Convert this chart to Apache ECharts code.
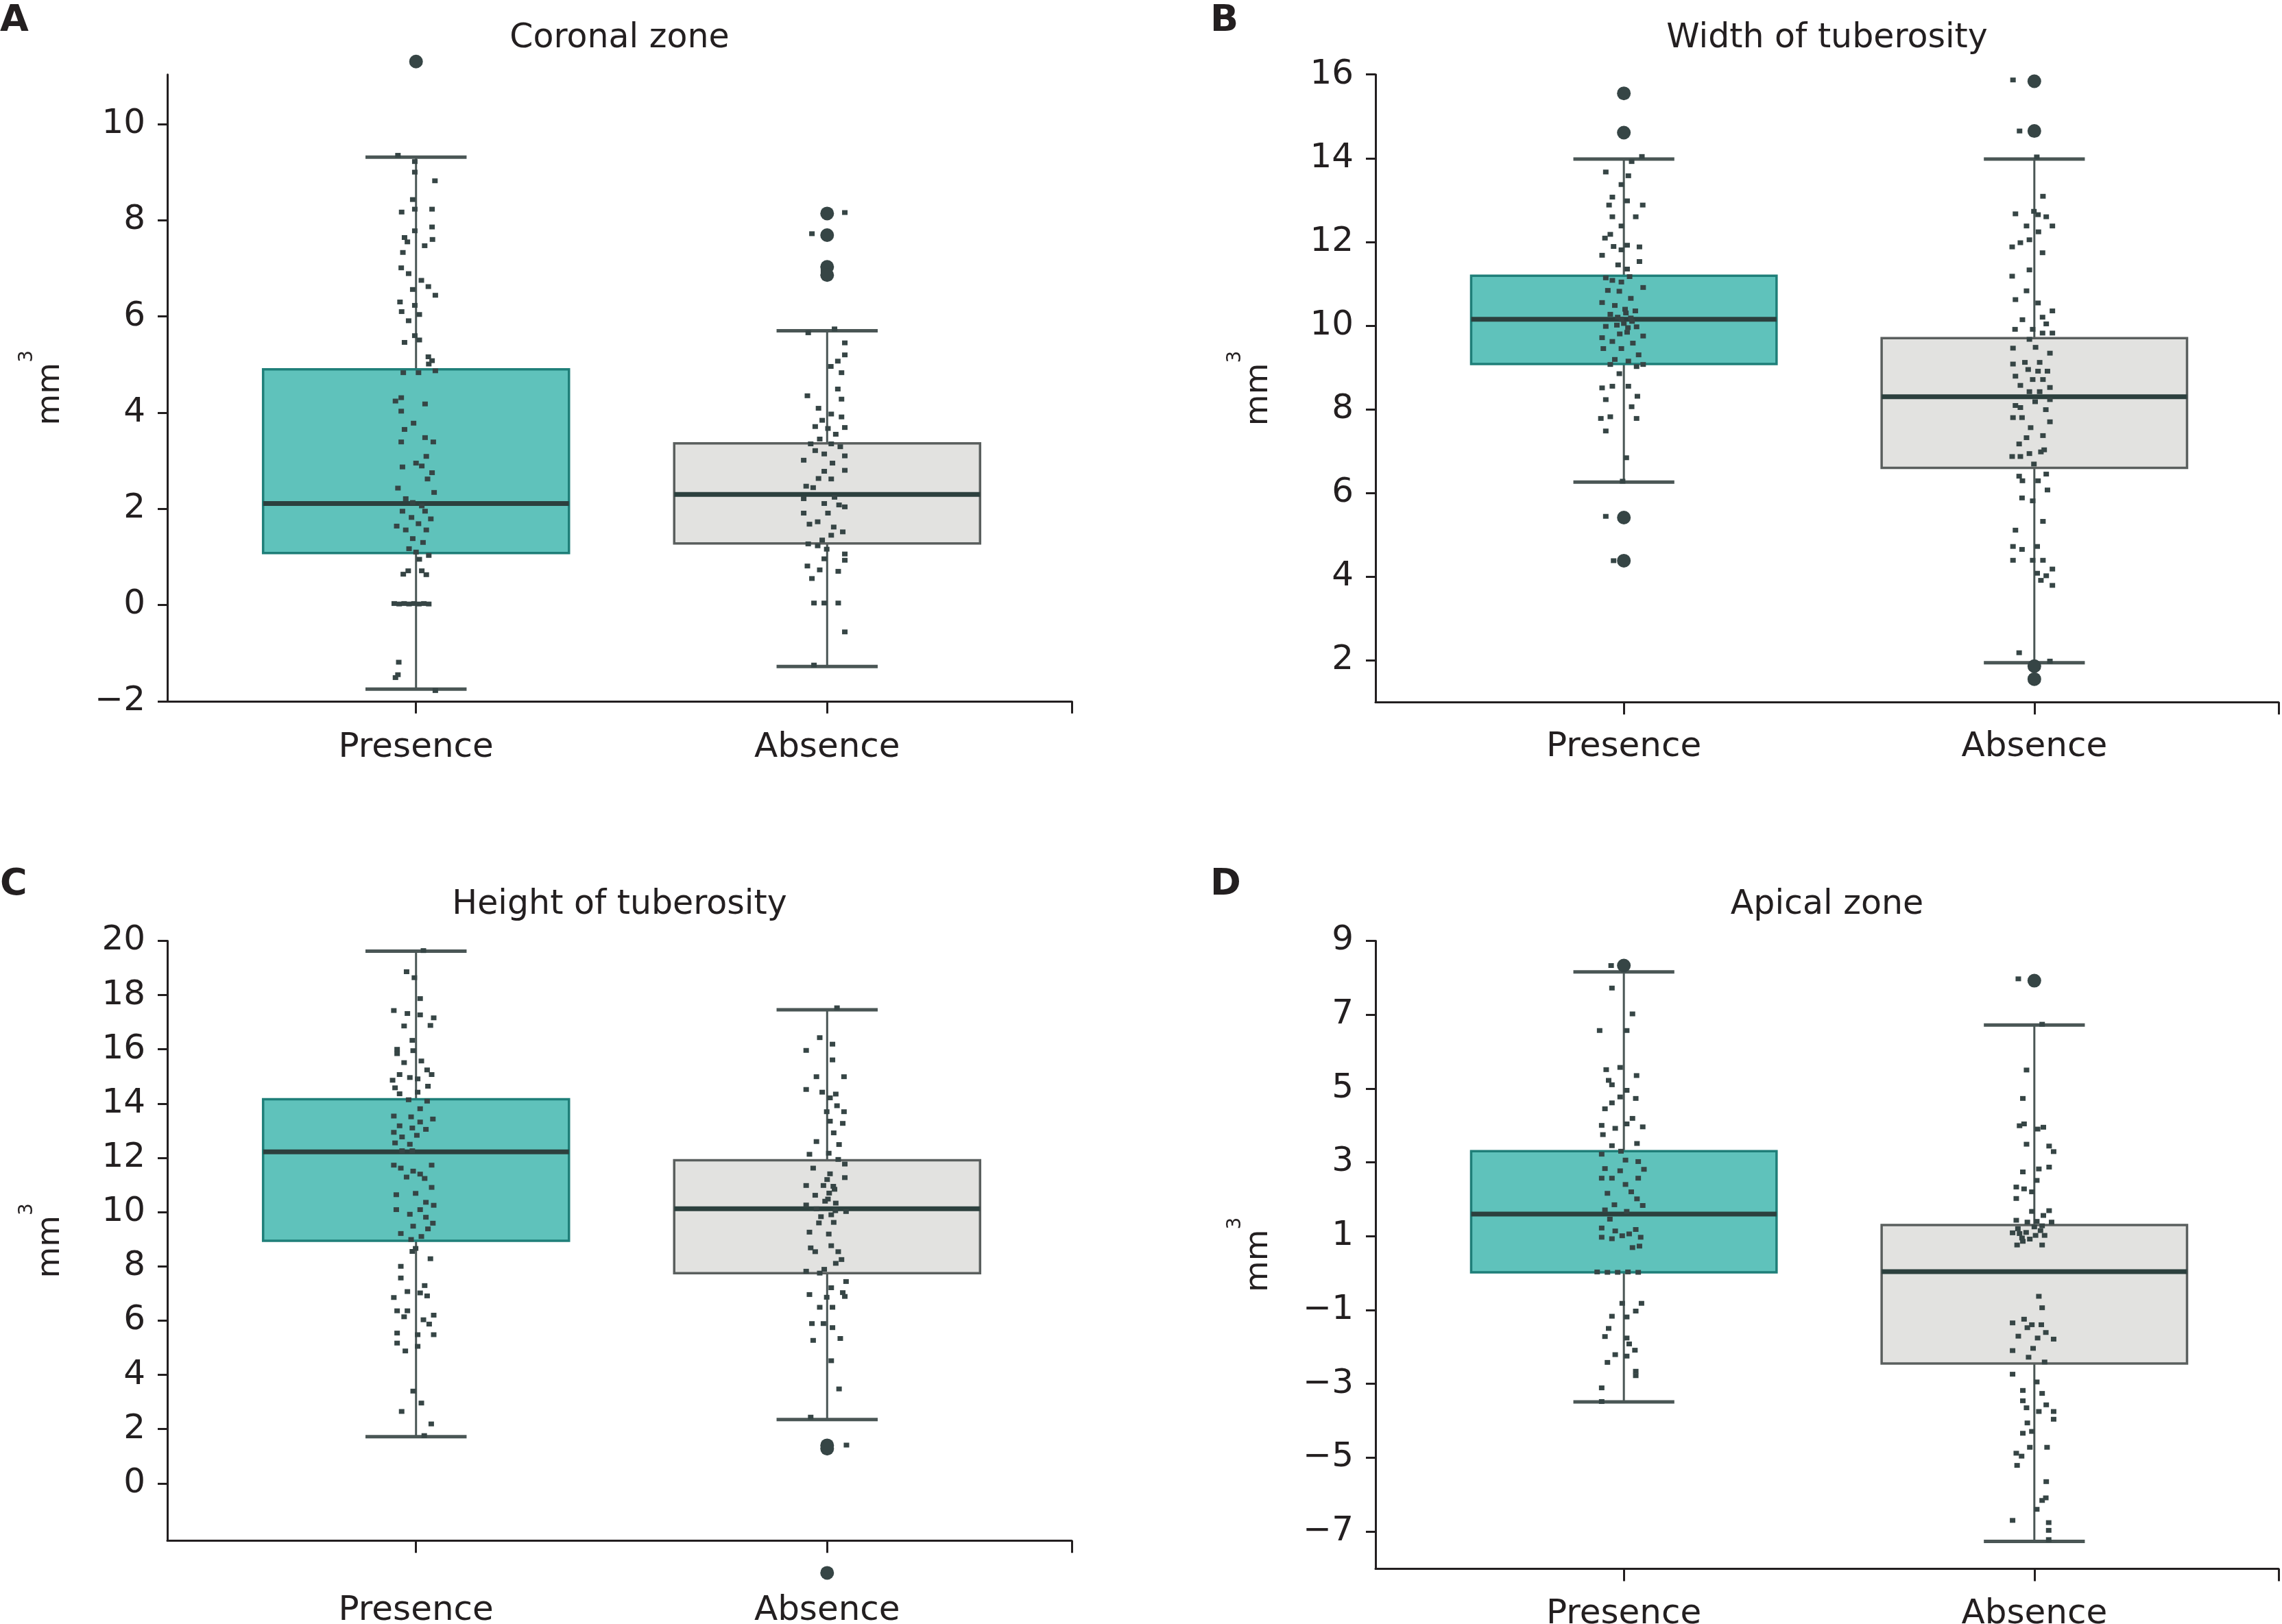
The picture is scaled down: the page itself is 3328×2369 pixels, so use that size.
<!DOCTYPE html>
<html>
<head>
<meta charset="utf-8">
<script src="https://cdn.jsdelivr.net/npm/echarts@6/dist/echarts.min.js"></script>
<style>
html,body{margin:0;padding:0;background:#ffffff;}
#chart{width:3328px;height:2369px;}
</style>
</head>
<body>
<div id="chart"></div>
<script>
// ---------------- DATA ----------------
const categories = ['Presence', 'Absence'];
const panelTitles = ['Coronal zone', 'Width of tuberosity', 'Height of tuberosity', 'Apical zone'];
const panelLetters = ['A', 'B', 'C', 'D'];

const yTicksA = [-2, 0, 2, 4, 6, 8, 10];
const yTicksB = [2, 4, 6, 8, 10, 12, 14, 16];
const yTicksC = [0, 2, 4, 6, 8, 10, 12, 14, 16, 18, 20];
const yTicksD = [-7, -5, -3, -1, 1, 3, 5, 7, 9];

// box statistics per category: [lower whisker, Q1, median, Q3, upper whisker]
const boxA = [[-1.75, 1.08, 2.11, 4.90, 9.31], [-1.28, 1.28, 2.30, 3.36, 5.70]];
const boxB = [[6.26, 9.08, 10.15, 11.19, 13.98], [1.94, 6.60, 8.30, 9.70, 13.98]];
const boxC = [[1.72, 8.94, 12.22, 14.16, 19.62], [2.35, 7.75, 10.12, 11.91, 17.46]];
const boxD = [[-3.49, 0.02, 1.60, 3.30, 8.16], [-7.27, -2.45, 0.04, 1.30, 6.72]];

// outliers: [category index, value]
const outliersA = [[0, 11.30], [1, 8.14], [1, 7.69], [1, 7.03], [1, 6.86]];
const outliersB = [[0, 15.55], [0, 14.61], [0, 5.41], [0, 4.38], [1, 15.84], [1, 14.65], [1, 1.86], [1, 1.55]];
const outliersC = [[1, 1.40], [1, 1.28], [1, -3.30]];
const outliersD = [[0, 8.33], [1, 7.92]];

// jittered observations: [horizontal jitter (category units), value]
const stripAPresence = [[0.047,11.33],[-0.044,9.35],[-0.003,9.22],[-0.003,9.00],[0.046,8.82],[-0.008,8.43],[-0.035,8.17],[-0.003,8.23],[0.039,8.23],[0.039,7.86],[-0.003,7.78],[-0.028,7.64],[-0.021,7.55],[0.04,7.60],[0.021,7.47],[-0.032,7.33],[-0.036,7.01],[-0.018,6.89],[0.013,6.75],[0.03,6.62],[-0.008,6.56],[0.047,6.44],[-0.039,6.30],[-0.035,6.10],[-0.003,6.23],[0.008,6.04],[-0.018,5.91],[-0.003,5.60],[0.008,5.51],[-0.028,5.46],[0.03,5.16],[0.039,5.08],[0.031,5.01],[-0.031,4.83],[0.006,4.83],[0.047,4.87],[-0.05,4.24],[-0.036,4.31],[0.022,4.18],[-0.036,4.03],[-0.006,3.78],[-0.028,3.65],[0.022,3.48],[0.042,3.39],[-0.036,3.39],[0.025,3.09],[0,2.95],[0.014,2.89],[-0.033,2.87],[0.039,2.75],[0.028,2.62],[-0.044,2.43],[0.044,2.34],[-0.025,2.21],[-0.008,2.13],[0.014,2.06],[-0.033,1.95],[0.022,1.95],[-0.011,1.82],[0.036,1.79],[-0.047,1.64],[0.006,1.69],[-0.025,1.56],[0.025,1.56],[-0.008,1.38],[0.017,1.30],[-0.017,1.17],[0,1.10],[0.031,1.03],[0.008,0.95],[-0.019,0.71],[-0.031,0.64],[0.014,0.71],[0.025,0.63],[-0.053,0.03],[-0.041,0.02],[-0.029,0.03],[-0.017,0.02],[-0.005,0.03],[0.007,0.02],[0.019,0.03],[0.031,0.02],[-0.042,-1.19],[-0.05,-1.51],[-0.044,-1.45],[0.047,-1.78]];
const stripAAbsence = [[0.043,8.16],[-0.037,7.72],[-0.009,6.95],[0,7.03],[-0.046,5.66],[0.018,5.74],[0.043,5.45],[0.043,5.20],[0.026,5.07],[0.009,4.96],[0.035,4.83],[0.026,4.49],[-0.048,4.35],[0.035,4.28],[-0.021,4.09],[0.01,3.97],[0.035,3.91],[-0.012,3.84],[-0.029,3.71],[0.043,3.69],[0.002,3.67],[0.021,3.55],[-0.018,3.45],[-0.04,3.35],[0.01,3.35],[0.032,3.29],[-0.029,3.21],[0.043,3.10],[-0.007,3.14],[-0.057,3.01],[0.013,2.95],[0.043,2.80],[-0.007,2.78],[-0.021,2.63],[0.01,2.62],[-0.051,2.47],[-0.034,2.44],[0.018,2.24],[-0.057,2.21],[-0.007,2.11],[0.029,2.08],[0.043,2.04],[-0.057,1.91],[0.002,1.91],[-0.043,1.68],[-0.023,1.73],[0.016,1.62],[0.038,1.52],[0.01,1.45],[-0.012,1.35],[-0.046,1.27],[-0.023,1.23],[-0.001,1.16],[0.043,1.06],[-0.007,0.96],[-0.048,0.81],[-0.018,0.73],[0.027,0.70],[0.043,0.93],[-0.037,0.55],[-0.032,0.04],[-0.007,0.04],[0.027,0.04],[0.043,-0.56],[-0.032,-1.25]];

const stripBPresence = [[-0.044,5.44],[-0.025,4.38],[0.044,14.04],[0.019,13.92],[-0.044,13.67],[0.011,13.58],[-0.006,13.37],[-0.028,13.07],[0.008,12.98],[-0.036,12.88],[0.046,12.88],[-0.028,12.60],[0.029,12.60],[-0.006,12.38],[-0.033,12.18],[-0.046,12.09],[-0.025,11.89],[0.008,11.92],[0.038,11.88],[-0.006,11.81],[-0.053,11.68],[0.038,11.53],[-0.014,11.45],[0.008,11.35],[-0.044,11.14],[0.014,11.17],[-0.028,11.08],[-0.006,11.04],[0.047,10.91],[-0.039,10.84],[-0.011,10.82],[0.017,10.65],[-0.053,10.55],[-0.022,10.48],[0.003,10.39],[0.028,10.35],[-0.033,10.27],[-0.006,10.15],[0.017,10.18],[-0.044,9.98],[-0.017,10.01],[0.031,9.97],[0.008,9.84],[-0.053,9.71],[0.047,9.75],[-0.028,9.62],[0.022,9.58],[-0.05,9.45],[-0.006,9.45],[0.036,9.30],[-0.022,9.19],[0.011,9.15],[0.047,9.07],[0.031,9.02],[-0.033,9.07],[-0.011,8.85],[-0.053,8.51],[-0.028,8.55],[0.011,8.55],[0.033,8.31],[-0.044,8.23],[0.019,8.06],[-0.056,7.78],[-0.033,7.82],[0.031,7.78],[-0.044,7.48],[0.006,6.84],[-0.003,6.28],[0.0,10.05],[0.01,9.95],[-0.015,10.2],[0.02,10.1],[-0.01,9.8],[0.005,10.3]];
const stripBAbsence = [[-0.052,15.87],[-0.036,14.65],[0.038,1.98],[0.006,14.03],[0.021,13.09],[-0.046,12.67],[-0.001,12.73],[0.009,12.65],[0.029,12.60],[-0.019,12.38],[0.044,12.38],[0.01,12.24],[-0.012,12.05],[-0.034,11.98],[-0.054,11.88],[0.02,11.74],[-0.012,11.33],[-0.054,11.18],[-0.019,10.83],[-0.046,10.62],[0.009,10.54],[0.044,10.35],[0.02,10.20],[-0.029,10.14],[0.029,10.04],[-0.047,9.91],[-0.004,9.91],[0.02,9.82],[0.044,9.82],[-0.012,9.67],[0.003,9.48],[-0.052,9.46],[0.038,9.34],[-0.052,9.08],[-0.023,9.12],[0.013,9.12],[-0.015,8.95],[0.009,8.91],[-0.046,8.79],[0.032,8.91],[-0.004,8.71],[0.021,8.71],[-0.034,8.57],[0.038,8.52],[-0.012,8.42],[0.013,8.42],[0.038,8.23],[-0.046,8.09],[0.002,8.18],[-0.034,8.04],[0.028,7.99],[-0.052,7.80],[-0.03,7.80],[0.038,7.70],[-0.009,7.56],[0.021,7.37],[-0.019,7.32],[-0.037,7.17],[-0.012,6.94],[-0.054,6.87],[-0.034,6.87],[0.016,6.98],[0.024,7.03],[-0.001,6.69],[-0.037,6.40],[0.029,6.45],[-0.029,6.29],[0.009,6.29],[0.032,6.07],[-0.03,5.88],[-0.004,5.81],[0.021,5.32],[-0.046,5.11],[-0.052,4.72],[-0.03,4.65],[0.007,4.72],[-0.052,4.39],[-0.004,4.39],[0.021,4.39],[0.044,4.18],[0.029,4.02],[0.007,4.08],[0.044,3.79],[0.016,3.91],[-0.037,2.18]];

const stripCPresence = [[0.018,19.64],[-0.023,18.86],[-0.004,18.64],[0.01,17.87],[-0.054,17.43],[-0.021,17.32],[0.01,17.27],[0.043,17.16],[0.035,16.88],[-0.029,16.86],[-0.009,16.33],[-0.046,16.00],[-0.007,15.95],[-0.046,15.84],[0.013,15.57],[-0.029,15.51],[0.027,15.24],[-0.04,15.07],[0.038,15.07],[-0.057,14.86],[-0.015,14.96],[0.004,14.91],[-0.051,14.58],[0.029,14.64],[-0.04,14.36],[0.004,14.42],[-0.018,14.14],[0.027,14.09],[0.01,13.81],[-0.054,13.54],[-0.012,13.51],[0.041,13.43],[0.01,13.32],[-0.04,13.18],[0.024,13.05],[-0.009,13.10],[-0.054,12.94],[0.002,12.83],[-0.034,12.77],[-0.051,12.55],[-0.015,12.50],[-0.034,12.26],[-0.009,12.26],[-0.054,11.73],[0.038,11.73],[-0.037,11.62],[-0.007,11.51],[0.01,11.40],[-0.023,11.29],[0.021,11.24],[0.038,10.91],[-0.001,10.69],[-0.048,10.64],[0.024,10.36],[0.043,10.25],[0.01,10.09],[-0.048,10.09],[-0.015,9.92],[0.024,9.81],[0.041,9.59],[-0.007,9.48],[0.029,9.38],[-0.037,9.21],[0.013,9.10],[-0.012,8.99],[-0.001,8.66],[-0.009,8.55],[0.035,8.28],[-0.037,8.00],[-0.037,7.57],[0.021,7.29],[-0.021,7.07],[-0.054,6.85],[0.027,6.91],[0.01,7.02],[-0.046,6.36],[-0.021,6.36],[-0.029,6.14],[0.018,6.03],[0.043,6.20],[0.032,5.87],[-0.046,5.54],[0.004,5.48],[0.043,5.48],[-0.046,5.17],[-0.026,4.88],[0.004,5.05],[-0.007,3.40],[0.013,2.96],[-0.035,2.65],[0.037,2.19],[0.02,1.76]];
const stripCAbsence = [[0.047,1.41],[0.024,17.53],[-0.018,16.43],[0.013,16.19],[-0.051,15.96],[0.013,15.61],[-0.026,14.99],[0.041,14.99],[-0.051,14.52],[-0.012,14.42],[0.021,14.35],[0.007,14.21],[0.024,13.92],[-0.001,13.70],[0.041,13.70],[0.007,13.35],[0.038,13.27],[0.016,12.92],[-0.026,12.60],[0.029,12.49],[-0.043,12.13],[0.004,12.17],[0.027,11.94],[0.043,11.77],[-0.034,11.62],[0.007,11.41],[0.043,11.27],[-0.051,10.98],[-0.009,10.98],[0.018,10.84],[-0.029,10.62],[0.002,10.48],[-0.051,10.26],[0.021,10.33],[-0.026,10.12],[0.046,10.02],[0.01,9.90],[-0.015,9.83],[0.016,9.62],[-0.043,9.26],[0.004,9.19],[-0.04,8.68],[-0.029,8.54],[0.01,8.76],[0.027,8.54],[0.021,8.11],[0.035,8.25],[-0.051,7.82],[-0.018,7.75],[-0.007,7.89],[0.046,7.44],[0.01,7.21],[0.038,7.03],[-0.043,6.96],[-0.001,6.86],[0.043,6.89],[-0.018,6.49],[0.013,6.49],[-0.037,5.89],[-0.009,5.89],[0.013,5.74],[-0.034,5.27],[0.032,5.34],[0.01,4.52],[0.029,3.48],[-0.04,2.44],[0.005,10.7],[0.015,10.95],[-0.005,10.4],[0.02,10.05],[-0.02,9.6],[0.0,11.2]];

const stripDPresence = [[-0.031,8.33],[-0.029,7.72],[0.021,7.02],[-0.059,6.57],[0.007,6.57],[-0.009,5.57],[-0.043,5.51],[0.031,5.35],[-0.037,5.22],[-0.029,5.10],[0.007,4.95],[-0.009,4.77],[0.029,4.73],[-0.029,4.61],[-0.046,4.45],[0.021,4.19],[0.007,4.04],[-0.054,4.00],[-0.021,3.92],[0.046,3.96],[-0.051,3.75],[-0.029,3.45],[0.032,3.51],[-0.007,3.30],[-0.054,3.22],[0.004,3.06],[0.035,3.02],[-0.046,2.83],[0.049,2.81],[-0.009,2.77],[-0.054,2.57],[-0.029,2.57],[0.035,2.57],[0.004,2.40],[0.018,2.20],[-0.04,2.16],[0.032,2.01],[-0.023,1.85],[0.046,1.83],[-0.046,1.71],[0.007,1.67],[-0.034,1.46],[-0.054,1.22],[-0.021,1.14],[-0.054,0.97],[0.013,1.06],[0.029,1.18],[0.041,0.97],[-0.004,1.01],[0.021,0.69],[0.038,0.73],[-0.029,0.93],[-0.065,0.03],[-0.04,0.02],[-0.015,0.02],[0.01,0.03],[0.035,0.02],[0.043,-0.82],[-0.004,-0.82],[0.029,-1.03],[-0.029,-1.17],[0.007,-1.19],[-0.037,-1.50],[-0.046,-1.72],[0.007,-1.76],[0.013,-1.92],[0.027,-2.09],[-0.021,-2.21],[-0.04,-2.42],[0.007,-2.25],[0.029,-2.66],[0.029,-2.78],[-0.054,-3.11],[-0.054,-3.48]];
const stripDAbsence = [[-0.039,7.97],[0.019,6.74],[-0.019,5.50],[-0.028,4.73],[-0.036,3.99],[-0.025,4.04],[0.008,3.90],[0.022,3.95],[-0.019,3.49],[0.036,3.44],[0.047,3.29],[0.036,2.87],[0.011,2.82],[-0.028,2.74],[0.006,2.51],[-0.044,2.33],[-0.025,2.28],[-0.006,2.20],[-0.044,2.02],[-0.006,1.67],[0.036,1.69],[0.022,1.56],[-0.044,1.43],[-0.017,1.38],[0.006,1.40],[0.042,1.38],[0.019,1.28],[-0.053,1.09],[-0.036,1.07],[-0.028,0.86],[0.003,1.02],[0.025,1.02],[-0.042,0.76],[-0.011,0.92],[0.019,0.76],[-0.04,1.2],[-0.02,1.1],[0.0,1.25],[-0.03,0.95],[0.015,1.15],[0.011,-0.63],[0.019,-0.94],[-0.053,-1.35],[-0.025,-1.25],[-0.006,-1.40],[0.017,-1.40],[-0.017,-1.48],[0.028,-1.61],[-0.039,-1.71],[0.008,-1.76],[0.047,-1.79],[-0.053,-2.10],[-0.003,-2.04],[-0.014,-2.28],[0.025,-2.41],[-0.053,-2.74],[0.006,-2.95],[-0.028,-3.18],[0.019,-3.26],[-0.028,-3.46],[-0.019,-3.65],[0.029,-3.57],[0.011,-3.75],[0.047,-3.75],[0.047,-3.96],[-0.017,-4.06],[-0.028,-4.34],[-0.006,-4.29],[0.031,-4.72],[-0.011,-4.72],[-0.044,-4.88],[-0.031,-4.96],[-0.042,-5.21],[0.029,-5.65],[0.028,-6.09],[0.019,-6.16],[0.006,-6.40],[-0.053,-6.70],[0.035,-6.76],[0.035,-6.97],[0.035,-7.22]];

// ---------------- LAYOUT & STYLE ----------------
const FONT = 'DejaVu Sans';
const INK = '#231f20';
const layouts = [
  { left: 244,  top: 108.7,  width: 1319, height: 914.1, yMin: -2,    yMax: 11.03, xLabelMargin: 43, titleY: 56,   letterX: 0,    letterY: 31 },
  { left: 2006, top: 108.7,  width: 1317, height: 915.5, yMin: 1.0,   yMax: 16,    xLabelMargin: 41, titleY: 56,   letterX: 1765, letterY: 31 },
  { left: 244,  top: 1372.4, width: 1319, height: 874.9, yMin: -2.11, yMax: 20,    xLabelMargin: 78, titleY: 1320, letterX: 0,    letterY: 1291 },
  { left: 2006, top: 1372.4, width: 1317, height: 916,   yMin: -8.01, yMax: 9,     xLabelMargin: 42, titleY: 1320, letterX: 1765, letterY: 1291 }
];
const X_MIN = -0.605, X_MAX = 1.595;
const BOX_HALF = 0.372, CAP_HALF = 0.123;
const groupStyles = [
  { fill: '#5fc2bb', stroke: '#1f7f79' },
  { fill: '#e2e2e0', stroke: '#5a5f5e' }
];
const WHISKER = '#4a5655';
const MEDIAN = '#2c403e';
const DOT = '#364545';

const panels = [
  { ticks: yTicksA, box: boxA, out: outliersA, strips: [stripAPresence, stripAAbsence] },
  { ticks: yTicksB, box: boxB, out: outliersB, strips: [stripBPresence, stripBAbsence] },
  { ticks: yTicksC, box: boxC, out: outliersC, strips: [stripCPresence, stripCAbsence] },
  { ticks: yTicksD, box: boxD, out: outliersD, strips: [stripDPresence, stripDAbsence] }
];

function renderBox(params, api) {
  const x = api.value(0);
  const pMin = api.coord([x, api.value(1)]);
  const pQ1 = api.coord([x, api.value(2)]);
  const pMed = api.coord([x, api.value(3)]);
  const pQ3 = api.coord([x, api.value(4)]);
  const pMax = api.coord([x, api.value(5)]);
  const hb = api.size([BOX_HALF, 0])[0];
  const hc = api.size([CAP_HALF, 0])[0];
  const st = groupStyles[params.dataIndex];
  const cx = pMed[0];
  return {
    type: 'group',
    children: [
      { type: 'line', shape: { x1: cx, y1: pMax[1], x2: cx, y2: pQ3[1] }, style: { stroke: WHISKER, lineWidth: 3 } },
      { type: 'line', shape: { x1: cx, y1: pQ1[1], x2: cx, y2: pMin[1] }, style: { stroke: WHISKER, lineWidth: 3 } },
      { type: 'line', shape: { x1: cx - hc, y1: pMax[1], x2: cx + hc, y2: pMax[1] }, style: { stroke: WHISKER, lineWidth: 5 } },
      { type: 'line', shape: { x1: cx - hc, y1: pMin[1], x2: cx + hc, y2: pMin[1] }, style: { stroke: WHISKER, lineWidth: 5 } },
      { type: 'rect', shape: { x: cx - hb, y: pQ3[1], width: 2 * hb, height: pQ1[1] - pQ3[1] }, style: { fill: st.fill, stroke: st.stroke, lineWidth: 3.5 } },
      { type: 'line', shape: { x1: cx - hb, y1: pMed[1], x2: cx + hb, y2: pMed[1] }, style: { stroke: MEDIAN, lineWidth: 7 } }
    ]
  };
}

const grid = [], xAxis = [], yAxis = [], series = [], graphic = [];
panels.forEach((p, i) => {
  const L = layouts[i];
  grid.push({ left: L.left, top: L.top, width: L.width, height: L.height, containLabel: false, outerBoundsMode: 'none' });
  xAxis.push({
    type: 'value', gridIndex: i, min: X_MIN, max: X_MAX,
    splitLine: { show: false },
    axisLine: { show: true, onZero: false, lineStyle: { color: INK, width: 3 } },
    axisTick: { show: true, customValues: [0, 1, X_MAX], length: 18, lineStyle: { color: INK, width: 3 } },
    axisLabel: {
      customValues: [0, 1], margin: L.xLabelMargin, color: INK, fontSize: 50, fontFamily: FONT,
      formatter: v => categories[Math.round(v)]
    }
  });
  yAxis.push({
    type: 'value', gridIndex: i, min: L.yMin, max: L.yMax,
    splitLine: { show: false },
    axisLine: { show: true, onZero: false, lineStyle: { color: INK, width: 3 } },
    axisTick: { show: true, customValues: p.ticks, length: 14, lineStyle: { color: INK, width: 3 } },
    axisLabel: {
      customValues: p.ticks, margin: 32, color: INK, fontSize: 50, fontFamily: FONT,
      formatter: v => String(v).replace('-', '\u2212')
    },
    name: '{m|mm}{s|3}', nameLocation: 'middle', nameRotate: 90, nameGap: 122, nameMoveOverlap: false,
    nameTextStyle: {
      color: INK, fontFamily: FONT,
      rich: {
        m: { fontSize: 47, lineHeight: 96, fontFamily: FONT, color: INK },
        s: { fontSize: 28, lineHeight: 28, verticalAlign: 'top', fontFamily: FONT, color: INK }
      }
    }
  });
  series.push({
    type: 'custom', xAxisIndex: i, yAxisIndex: i, z: 2, silent: true,
    renderItem: renderBox,
    encode: { x: 0, y: [1, 2, 3, 4, 5] },
    data: p.box.map((b, k) => [k].concat(b))
  });
  series.push({
    type: 'scatter', xAxisIndex: i, yAxisIndex: i, z: 3, silent: true,
    symbol: 'rect', symbolSize: [8, 7],
    itemStyle: { color: DOT, opacity: 1 },
    data: p.strips[0].map(d => [0 + d[0], d[1]]).concat(p.strips[1].map(d => [1 + d[0], d[1]]))
  });
  series.push({
    type: 'scatter', xAxisIndex: i, yAxisIndex: i, z: 4, silent: true, clip: false,
    symbol: 'circle', symbolSize: 20,
    itemStyle: { color: DOT, opacity: 1 },
    data: p.out.map(d => [d[0], d[1]])
  });
  graphic.push({
    type: 'text', x: L.left + L.width / 2, y: L.titleY, silent: true,
    style: { text: panelTitles[i], fill: INK, font: '49px "DejaVu Sans"', align: 'center', verticalAlign: 'middle' }
  });
  graphic.push({
    type: 'text', x: L.letterX, y: L.letterY, silent: true,
    style: { text: panelLetters[i], fill: INK, font: 'bold 54px "DejaVu Sans"', align: 'left', verticalAlign: 'middle' }
  });
});

const chart = echarts.init(document.getElementById('chart'), null, { renderer: 'canvas' });
chart.setOption({
  backgroundColor: '#ffffff',
  animation: false,
  grid, xAxis, yAxis, series, graphic
});
</script>
</body>
</html>
